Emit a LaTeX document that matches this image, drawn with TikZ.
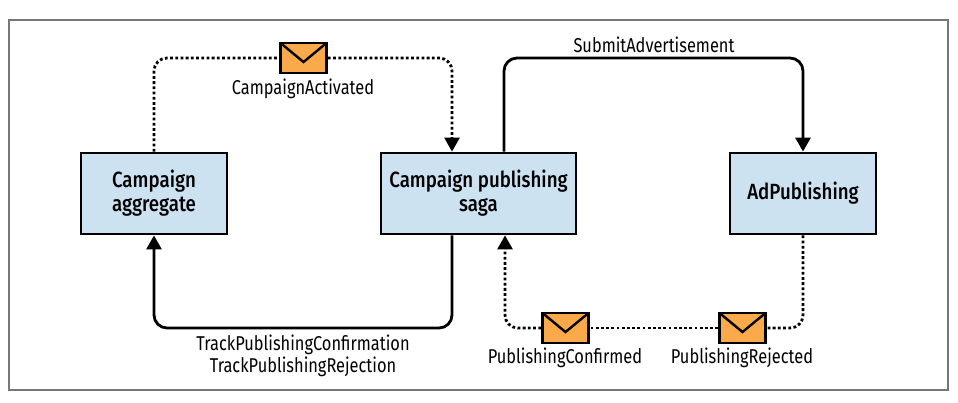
\documentclass[tikz,border=0pt]{standalone}
\usepackage{xcolor}
\usepackage{fontspec}
\setmainfont[FakeStretch=0.82]{Fira Sans}
\newfontfamily\boxfont[FakeStretch=0.85]{Fira Sans Medium}
\usepackage{tikz}
\usetikzlibrary{arrows.meta}
\definecolor{boxblue}{HTML}{CCE2F1}
\definecolor{mailorange}{HTML}{FBAA4B}
\definecolor{framegray}{HTML}{777777}
\tikzstyle{service} = [rectangle, minimum height=81pt, text centered, align=center, draw=black, line width=2.8pt, fill=boxblue, font=\boxfont\fontsize{22}{24}\selectfont]
\tikzstyle{mail} = [rectangle, minimum width=46pt, minimum height=30pt, inner sep=0pt, draw=black, line width=2.8pt, fill=mailorange, path picture={\draw [line width=2.4pt] (path picture bounding box.north west) -- ([yshift=-19pt]path picture bounding box.north) -- (path picture bounding box.north east);}]
\tikzstyle{tag} = [inner sep=0pt, align=center, font=\fontsize{20}{22}\selectfont]
\tikzstyle{flow} = [line width=2.8pt, rounded corners=13pt]
\tikzstyle{arrow} = [flow, -{Triangle[length=14pt,width=15pt]}]
\tikzstyle{event} = [flow, dash pattern=on 2.8pt off 2.4pt]
\tikzstyle{eventarrow} = [arrow, dash pattern=on 2.8pt off 2.4pt]

\begin{document}
\begin{tikzpicture}[x=1pt, y=-1pt, node distance=324.5pt]
        \useasboundingbox (0,0) rectangle (958,402);
        \draw [framegray, line width=1.8pt] (9,20) rectangle (948,390);

        % Nodes
        \node (aggregate) [service, minimum width=146pt] at (154,193.5) {Campaign\\aggregate};
        \node (saga) [service, minimum width=195pt, right of=aggregate] {Campaign publishing\\saga};
        \node (adpublishing) [service, minimum width=146pt, right of=saga] {AdPublishing};
        \node (activated) [mail] at (303.5,58) {};
        \node (confirmed) [mail] at (565.5,328) {};
        \node (rejected) [mail] at (742.5,328) {};
        \coordinate (highturn) at (654,58);
        \coordinate (lowturn) at (303,328);

        % Labels
        \node (activatedtag) [tag] at (303,89) {CampaignActivated};
        \node (submittag) [tag] at (654,45) {SubmitAdvertisement};
        \node (tracktag) [tag] at (303,356) {TrackPublishingConfirmation\\TrackPublishingRejection};
        \node (confirmedtag) [tag] at (565,358) {PublishingConfirmed};
        \node (rejectedtag) [tag] at (742,358) {PublishingRejected};

        % Arrows
        \draw [event] (aggregate.north) |- (activated.west);
        \draw [eventarrow] (activated.east) -| ([xshift=-26.5pt]saga.north);
        \draw [arrow] ([xshift=25.5pt]saga.north) |- (highturn) -| (adpublishing.north);
        \draw [arrow] ([xshift=-26.5pt]saga.south) |- (lowturn) -| (aggregate.south);
        \draw [event] (adpublishing.south) |- (rejected.east);
        \draw [event] (rejected.west) -- (confirmed.east);
        \draw [eventarrow] (confirmed.west) -| ([xshift=26.5pt]saga.south);
\end{tikzpicture}
\end{document}
